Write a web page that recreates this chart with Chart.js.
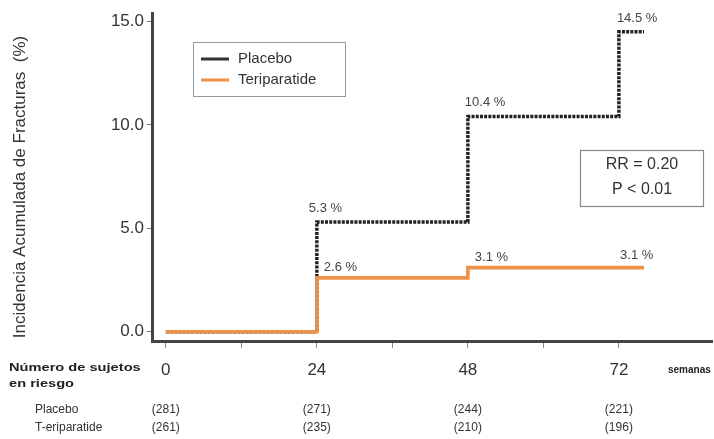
<!DOCTYPE html>
<html>
<head>
<meta charset="utf-8">
<script src="https://cdn.jsdelivr.net/npm/chart.js@4.4.0/dist/chart.umd.min.js"></script>
<style>
html,body{margin:0;padding:0;background:#fff;}
#wrap{width:714px;height:439px;position:relative;}
</style>
</head>
<body>
<div id="wrap"><canvas id="c" width="714" height="439"></canvas></div>
<script>
// ---- data ----
const weeks = [0, 24, 48, 72, 76];
const placebo = [0, 5.3, 10.4, 14.5, 14.5];
const teriparatide = [0, 2.6, 3.1, 3.1, 3.1];
const placeboLabels = ['', '5.3 %', '10.4 %', '14.5 %', ''];
const teriLabels = ['', '2.6 %', '3.1 %', '', '3.1 %'];
const xTickValues = [0, 12, 24, 36, 48, 60, 72];
const xTickLabels = ['0', '', '24', '', '48', '', '72'];
const yTickValues = [0, 5, 10, 15];
const riskWeeks = [0, 24, 48, 72];
const riskPlacebo = [281, 271, 244, 221];
const riskTeri = [261, 235, 210, 196];
const seriesNames = ['Placebo', 'Teriparatide'];
const riskRowNames = ['Placebo', 'T-eriparatide'];
const statLines = ['RR = 0.20', 'P < 0.01'];
const yTitle = 'Incidencia Acumulada de Fracturas  (%)';

const ORANGE = 'rgb(235,146,72)';
const DARK = '#222';
const FONT = 'Arial, "Liberation Sans", sans-serif';

function pts(xs, ys){ return xs.map((x,i)=>({x:x, y:ys[i]})); }

function stretchText(ctx, text, x, y, sx){
  ctx.save();
  ctx.translate(x, y);
  ctx.scale(sx, 1);
  ctx.fillText(text, 0, 0);
  ctx.restore();
}

const overlay = {
  id: 'overlay',
  afterDatasetsDraw(chart){
    const ctx = chart.ctx;
    const xs = chart.scales.x, ys = chart.scales.y;
    ctx.save();
    // y title
    ctx.save();
    ctx.translate(20, 187);
    ctx.rotate(-Math.PI/2);
    ctx.font = '17px ' + FONT;
    ctx.fillStyle = '#333';
    ctx.textAlign = 'center';
    ctx.textBaseline = 'middle';
    ctx.fillText(yTitle, 0, 0);
    ctx.restore();

    // percent labels
    ctx.fillStyle = '#444';
    ctx.font = '13px ' + FONT;
    ctx.textBaseline = 'middle';
    ctx.textAlign = 'left';
    const pOff = [[0,0],[-8,-14],[-3,-14],[-2,-13],[0,0]];
    placeboLabels.forEach((t,i)=>{
      if(!t) return;
      ctx.fillText(t, xs.getPixelForValue(weeks[i]) + pOff[i][0], ys.getPixelForValue(placebo[i]) + pOff[i][1]);
    });
    const tOff = [[0,0],[7,-10],[7,-10],[0,0],[-24,-12]];
    teriLabels.forEach((t,i)=>{
      if(!t) return;
      ctx.fillText(t, xs.getPixelForValue(weeks[i]) + tOff[i][0], ys.getPixelForValue(teriparatide[i]) + tOff[i][1]);
    });

    // legend box
    ctx.strokeStyle = '#999';
    ctx.lineWidth = 1;
    ctx.strokeRect(193.5, 42.5, 152, 54);
    const legColors = ['#333', ORANGE];
    ctx.font = '15px ' + FONT;
    ctx.fillStyle = '#333';
    seriesNames.forEach((n,i)=>{
      const y = 59 + i*21;
      ctx.strokeStyle = legColors[i];
      ctx.lineWidth = 3;
      ctx.beginPath(); ctx.moveTo(201, y); ctx.lineTo(229, y); ctx.stroke();
      ctx.fillText(n, 238, y);
    });

    // stats box
    ctx.strokeStyle = '#888';
    ctx.lineWidth = 1.2;
    ctx.strokeRect(580.5, 150.5, 123, 56);
    ctx.font = '16px ' + FONT;
    ctx.fillStyle = '#333';
    ctx.textAlign = 'center';
    statLines.forEach((s,i)=>{ ctx.fillText(s, 642, 165 + i*25); });

    // at risk table
    ctx.textAlign = 'left';
    ctx.fillStyle = '#222';
    ctx.font = 'bold 11px ' + FONT;
    stretchText(ctx, 'Número de sujetos', 9, 368, 1.33);
    stretchText(ctx, 'en riesgo', 9, 384, 1.33);
    ctx.font = 'bold 10px ' + FONT;
    ctx.fillText('semanas', 668, 370);
    ctx.font = '12px ' + FONT;
    ctx.fillStyle = '#333';
    ctx.fillText(riskRowNames[0], 35, 410);
    ctx.fillText(riskRowNames[1], 35, 428);
    ctx.textAlign = 'center';
    riskWeeks.forEach((w,i)=>{
      const px = xs.getPixelForValue(w);
      ctx.fillText('(' + riskPlacebo[i] + ')', px, 410);
      ctx.fillText('(' + riskTeri[i] + ')', px, 428);
    });
    ctx.restore();
  }
};

new Chart(document.getElementById('c'), {
  type: 'line',
  data: {
    datasets: [
      {
        label: seriesNames[1],
        data: pts(weeks, teriparatide),
        stepped: 'before',
        borderColor: ORANGE,
        borderWidth: 3.6,
        pointRadius: 0,
        fill: false,
        order: 0
      },
      {
        label: seriesNames[0],
        data: pts(weeks, placebo),
        stepped: 'before',
        borderColor: DARK,
        borderWidth: 3.5,
        borderDash: [3, 1.2],
        pointRadius: 0,
        fill: false,
        order: 1
      }
    ]
  },
  options: {
    responsive: false,
    animation: false,
    devicePixelRatio: 1,
    layout: { padding: { left: 12, top: 12, right: 2, bottom: 0 } },
    plugins: { legend: { display: false }, tooltip: { enabled: false } },
    scales: {
      x: {
        type: 'linear',
        min: -2.2,
        max: 86.8,
        afterBuildTicks: (s) => { s.ticks = xTickValues.map(v=>({value:v})); },
        afterFit: (s) => { s.height = 98; },
        ticks: {
          autoSkip: false,
          maxRotation: 0,
          padding: 12,
          color: '#333',
          font: { size: 17, family: FONT },
          callback: (v) => { const i = xTickValues.indexOf(v); return i >= 0 ? xTickLabels[i] : ''; }
        },
        grid: { drawOnChartArea: false, drawTicks: true, tickLength: 7, color: '#888', lineWidth: 1 },
        border: { display: true, color: '#444', width: 3 }
      },
      y: {
        min: -0.45,
        max: 15.4,
        afterBuildTicks: (s) => { s.ticks = yTickValues.map(v=>({value:v})); },
        afterFit: (s) => { s.width = 140; },
        ticks: {
          padding: 3,
          color: '#333',
          font: { size: 17, family: FONT },
          callback: (v) => Number(v).toFixed(1)
        },
        title: { display: false },
        grid: { drawOnChartArea: false, drawTicks: true, tickLength: 5, color: '#777', lineWidth: 1 },
        border: { display: true, color: '#444', width: 3 }
      }
    }
  },
  plugins: [overlay]
});
</script>
</body>
</html>
